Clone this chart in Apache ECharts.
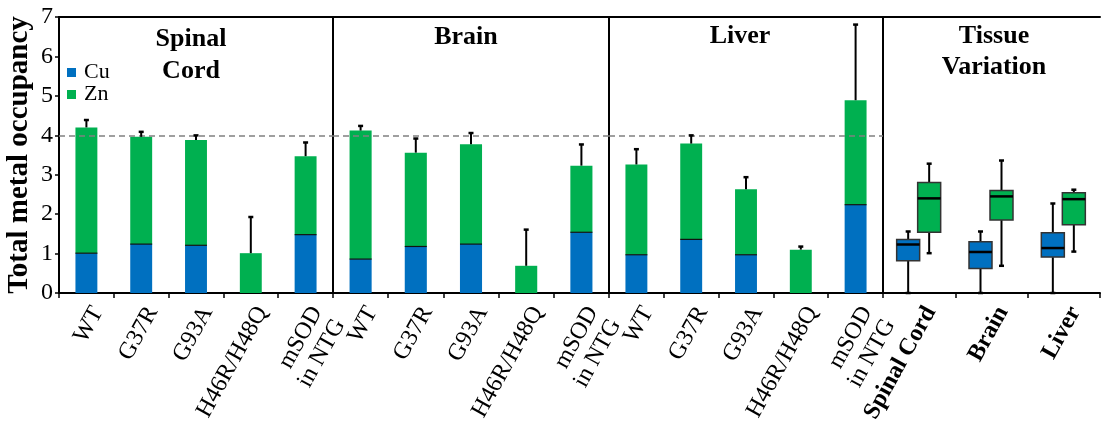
<!DOCTYPE html>
<html><head><meta charset="utf-8">
<script src="https://cdn.jsdelivr.net/npm/echarts@6/dist/echarts.min.js"></script>
<style>html,body{margin:0;padding:0;background:#fff}#c{width:1102px;height:425px}</style>
</head><body><div id="c"></div>
<script>
// ---- data ----
const mutants = ['WT', 'G37R', 'G93A', 'H46R/H48Q', 'mSOD\nin NTG'];
const tissues = ['Spinal Cord', 'Brain', 'Liver'];
const panelTitles = ['Spinal\nCord', 'Brain', 'Liver', 'Tissue\nVariation'];
const yTicks = [0, 1, 2, 3, 4, 5, 6, 7];
const refLine = 4;

const spinalCu = [1.01, 1.24, 1.21, 0, 1.48];
const spinalZn = [3.19, 2.72, 2.67, 1.01, 1.99];
const spinalErr = [0.20, 0.14, 0.13, 0.93, 0.36];

const brainCu = [0.86, 1.18, 1.24, 0, 1.54];
const brainZn = [3.26, 2.38, 2.53, 0.69, 1.69];
const brainErr = [0.13, 0.37, 0.30, 0.93, 0.55];

const liverCu = [0.97, 1.36, 0.97, 0, 2.24];
const liverZn = [2.29, 2.43, 1.66, 1.10, 2.65];
const liverErr = [0.40, 0.22, 0.32, 0.09, 1.93];

// box plots: [min, Q1, median, Q3, max] per tissue
const boxCu = [[0, 0.82, 1.23, 1.36, 1.56], [0, 0.62, 1.04, 1.30, 1.56], [0, 0.91, 1.14, 1.53, 2.27]];
const boxZn = [[1.01, 1.54, 2.40, 2.80, 3.28], [0.69, 1.85, 2.45, 2.60, 3.36], [1.05, 1.73, 2.38, 2.54, 2.62]];

// ---- style ----
const CU = '#0070C0', ZN = '#00B050';
const SERIF = '"Liberation Serif", "Times New Roman", serif';
const gridBase = {top: 17, height: 276, outerBoundsMode: 'none', containLabel: false};
const grids = [
  Object.assign({left: 59, width: 274}, gridBase),
  Object.assign({left: 333, width: 276}, gridBase),
  Object.assign({left: 609, width: 274}, gridBase),
  Object.assign({left: 883, width: 217}, gridBase)
];
const barSets = [[spinalCu, spinalZn, spinalErr], [brainCu, brainZn, brainErr], [liverCu, liverZn, liverErr]];

const xAxis = [], yAxis = [], series = [];
for (let g = 0; g < 4; g++) {
  const cats = g < 3 ? mutants : tissues;
  xAxis.push({
    type: 'category', gridIndex: g, data: cats, position: 'bottom',
    axisLine: {show: true, lineStyle: {color: '#000', width: 2}},
    axisTick: {show: true, length: 5, lineStyle: {color: '#000', width: 1.5}},
    axisLabel: {interval: 0, rotate: 61, margin: 9, color: '#000', fontFamily: SERIF,
      fontSize: 24, fontWeight: g < 3 ? 'normal' : 'bold', lineHeight: 26, verticalAlign: 'top'},
    splitLine: {show: false}
  });
  yAxis.push({
    type: 'value', gridIndex: g, min: 0, max: 7, interval: 1,
    name: g === 0 ? 'Total metal occupancy' : '', nameLocation: 'middle', nameGap: 25,
    nameTextStyle: {fontFamily: SERIF, fontSize: 29, fontWeight: 'bold', color: '#000'},
    axisLine: {show: true, lineStyle: {color: '#000', width: 2}},
    axisTick: {show: g === 0, length: 4, lineStyle: {color: '#000', width: 1.5}},
    axisLabel: {show: g === 0, margin: 6, color: '#000', fontFamily: SERIF, fontSize: 24,
      formatter: v => yTicks.includes(v) ? String(v) : ''},
    splitLine: {show: false}
  });
}
for (let g = 0; g < 4; g++) {
  xAxis.push({
    type: 'category', gridIndex: g, data: g < 3 ? mutants : tissues, position: 'top',
    axisLine: {show: true, lineStyle: {color: '#000', width: 2}},
    axisTick: {show: false}, axisLabel: {show: false}, splitLine: {show: false}
  });
}

barSets.forEach((set, g) => {
  const [cu, zn, err] = set;
  series.push({
    name: 'Cu', type: 'bar', xAxisIndex: g, yAxisIndex: g, stack: 's' + g, barWidth: '40%',
    itemStyle: {color: CU}, data: cu, silent: true
  });
  series.push({
    name: 'Zn', type: 'bar', xAxisIndex: g, yAxisIndex: g, stack: 's' + g, barWidth: '40%',
    itemStyle: {color: ZN}, data: zn, silent: true,
    markLine: {silent: true, symbol: 'none', label: {show: false},
      lineStyle: {color: '#808080', type: [6, 4], width: 1.5},
      data: [{yAxis: refLine}]}
  });
  series.push({
    name: 'err' + g, type: 'custom', xAxisIndex: g, yAxisIndex: g, silent: true, z: 5,
    data: cu.map((c, i) => [i, c + zn[i], err[i], c]),
    renderItem: function (params, api) {
      const x = api.value(0), total = api.value(1), e = api.value(2), c = api.value(3);
      const p0 = api.coord([x, total]);
      const p1 = api.coord([x, total + e]);
      const bw = api.size([1, 0])[0] * 0.4;
      const ch = [
        {type: 'line', shape: {x1: p0[0], y1: p0[1], x2: p1[0], y2: p1[1]}, style: {stroke: '#000', lineWidth: 2}},
        {type: 'line', shape: {x1: p1[0] - 2.5, y1: p1[1] + 0.5, x2: p1[0] + 2.5, y2: p1[1] + 0.5}, style: {stroke: '#000', lineWidth: 2.5}}
      ];
      if (c > 0) {
        const pc = api.coord([x, c]);
        ch.push({type: 'line', shape: {x1: pc[0] - bw / 2, y1: pc[1], x2: pc[0] + bw / 2, y2: pc[1]}, style: {stroke: '#111', lineWidth: 1.2}});
      }
      return {type: 'group', children: ch};
    }
  });
});

function boxSeries(name, boxes, color, offset) {
  return {
    name: name, type: 'custom', xAxisIndex: 3, yAxisIndex: 3, silent: true,
    data: boxes.map((b, i) => [i].concat(b)),
    renderItem: function (params, api) {
      const i = api.value(0);
      const vals = [1, 2, 3, 4, 5].map(k => api.value(k));
      const pts = vals.map(v => api.coord([i, v]));
      const cx = pts[0][0] + offset;
      const w = 23;
      const yMin = pts[0][1], yQ1 = pts[1][1], yMed = pts[2][1], yQ3 = pts[3][1], yMax = pts[4][1];
      return {type: 'group', children: [
        {type: 'line', shape: {x1: cx, y1: yQ3, x2: cx, y2: yMax}, style: {stroke: '#000', lineWidth: 2}},
        {type: 'line', shape: {x1: cx, y1: yQ1, x2: cx, y2: yMin}, style: {stroke: '#000', lineWidth: 2}},
        {type: 'line', shape: {x1: cx - 2.5, y1: yMax, x2: cx + 2.5, y2: yMax}, style: {stroke: '#000', lineWidth: 2.5}},
        {type: 'line', shape: {x1: cx - 2.5, y1: yMin, x2: cx + 2.5, y2: yMin}, style: {stroke: '#000', lineWidth: 2.5}},
        {type: 'rect', shape: {x: cx - w / 2, y: yQ3, width: w, height: yQ1 - yQ3}, style: {fill: color, stroke: '#333', lineWidth: 1.5}},
        {type: 'line', shape: {x1: cx - w / 2, y1: yMed, x2: cx + w / 2, y2: yMed}, style: {stroke: '#000', lineWidth: 2.5}}
      ]};
    }
  };
}
series.push(boxSeries('CuBox', boxCu, CU, -11));
series.push(boxSeries('ZnBox', boxZn, ZN, 10));

const titleFont = 'bold 26px ' + SERIF;
const titlePos = [[191, 55, 32], [466, 37, 32], [740, 36, 32], [994, 51.5, 31]];
const graphic = panelTitles.map((t, i) => ({
  type: 'text', x: titlePos[i][0], y: titlePos[i][1], silent: true,
  style: {text: t, font: titleFont, fill: '#000', align: 'center', verticalAlign: 'middle',
    textAlign: 'center', textVerticalAlign: 'middle', lineHeight: titlePos[i][2]}
}));

const chart = echarts.init(document.getElementById('c'), null, {renderer: 'canvas'});
chart.setOption({
  animation: false,
  backgroundColor: '#fff',
  grid: grids,
  legend: {
    data: ['Cu', 'Zn'], orient: 'vertical', left: 62, top: 56.5, itemWidth: 9, itemHeight: 9,
    itemGap: 0, icon: 'rect', selectedMode: false,
    textStyle: {fontFamily: SERIF, fontSize: 22, color: '#000', lineHeight: 20, padding: [0, 0, 0, 3]}
  },
  xAxis: xAxis, yAxis: yAxis, series: series, graphic: graphic
});
</script></body></html>
